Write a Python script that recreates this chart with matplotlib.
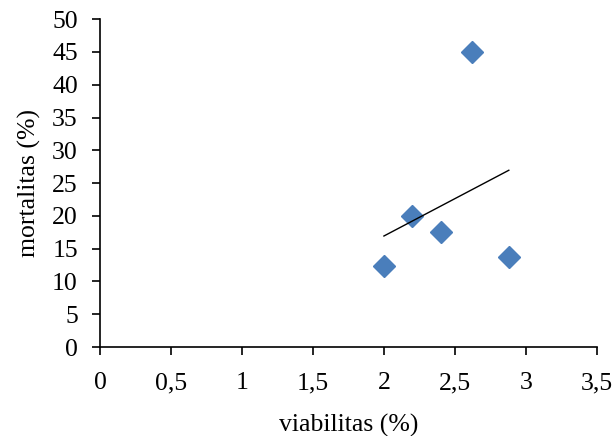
import matplotlib
matplotlib.use("Agg")
import matplotlib.pyplot as plt
from matplotlib.ticker import FuncFormatter
import numpy as np

# data
viabilitas = [2.0, 2.2, 2.4, 2.62, 2.88]
mortalitas = [12.3, 20.0, 17.5, 45.0, 13.8]
x_ticks = [0, 0.5, 1, 1.5, 2, 2.5, 3, 3.5]
y_ticks = [0, 5, 10, 15, 20, 25, 30, 35, 40, 45, 50]

plt.rcParams['font.family'] = ['Liberation Serif', 'DejaVu Serif']

fig = plt.figure(figsize=(6.14, 4.36), dpi=100)
ax = fig.add_axes([0.163, 0.204, 0.809, 0.752])

ax.plot(viabilitas, mortalitas, linestyle='none', marker='D', markersize=11.5,
        color='#4a7ebb', markeredgecolor='#4a7ebb')

# linear trend line across the data range
slope, icpt = np.polyfit(viabilitas, mortalitas, 1)
xs = np.array([min(viabilitas), max(viabilitas)])
ax.plot(xs, slope * xs + icpt, color='black', linewidth=1.0)

ax.set_xlim(0, 3.5)
ax.set_ylim(0, 50)
ax.set_xticks(x_ticks)
ax.set_yticks(y_ticks)
ax.xaxis.set_major_formatter(FuncFormatter(lambda v, p: ('%g' % v).replace('.', ',')))

for s in ['top', 'right']:
    ax.spines[s].set_visible(False)
for s in ['left', 'bottom']:
    ax.spines[s].set_linewidth(1.2)
ax.tick_params(direction='out', length=6, width=1.2, labelsize=18.5, colors='black')
ax.tick_params(axis='x', pad=12)
ax.tick_params(axis='y', pad=10)

ax.set_xlabel('viabilitas (%)', fontsize=18.5, labelpad=14)
ax.set_ylabel('mortalitas (%)', fontsize=18.5, labelpad=8)

fig.savefig('out.png', dpi=100)
